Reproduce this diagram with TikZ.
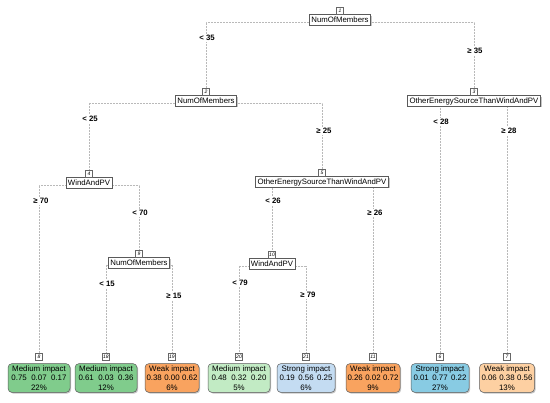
\documentclass[tikz,border=0pt]{standalone}
\usepackage{fontspec}
\setmainfont{Liberation Sans}
\usetikzlibrary{shadows,backgrounds}
\definecolor{gdark}{RGB}{128,204,140}
\definecolor{glight}{RGB}{194,235,196}
\definecolor{odark}{RGB}{249,163,95}
\definecolor{olight}{RGB}{253,208,162}
\definecolor{blight}{RGB}{196,220,242}
\definecolor{bdark}{RGB}{136,203,227}
\definecolor{boxline}{RGB}{90,90,90}
\newcommand{\nums}[4]{\makebox[#1pt]{#2\hfill#3\hfill#4}}
\tikzset{
  split/.style={draw=boxline, fill=white, line width=0.5pt, inner xsep=2pt, inner ysep=0pt,
    minimum height=10.5pt, font=\fontsize{7.8}{9}\selectfont,
    drop shadow={shadow xshift=1.2pt, shadow yshift=-1.2pt, fill=gray, opacity=0.45}},
  leaf/.style={draw=boxline, line width=0.5pt, rounded corners=4pt, align=center, inner xsep=1pt,
    inner ysep=2pt, font=\fontsize{7.9}{9.5}\selectfont,
    drop shadow={shadow xshift=1.2pt, shadow yshift=-1.2pt, fill=gray, opacity=0.45}},
  tag/.style={draw=gray!80!black, fill=white, line width=0.4pt, inner sep=0.5pt, minimum width=7pt,
    minimum height=7pt, font=\fontsize{5}{5.5}\selectfont\itshape},
  lbl/.style={fill=white, inner sep=1pt, font=\fontsize{7.8}{9}\selectfont\bfseries},
  edge/.style={draw=gray!55, line width=0.45pt, dash pattern=on 0.5pt off 1pt}
}
\begin{document}
\begin{tikzpicture}[x=1pt,y=-1pt]
\useasboundingbox (0,0) rectangle (550,403);
% internal nodes
\node[split] (n1) at (340,20) {NumOfMembers};
\node[tag,anchor=south] (t1) at (n1.north) {1};
\node[split] (n2) at (206,101) {NumOfMembers};
\node[tag,anchor=south] (t2) at (n2.north) {2};
\node[split] (n3) at (474,101) {OtherEnergySourceThanWindAndPV};
\node[tag,anchor=south] (t3) at (n3.north) {3};
\node[split] (n4) at (89,183) {WindAndPV};
\node[tag,anchor=south] (t4) at (n4.north) {4};
\node[split] (n5) at (322,182) {OtherEnergySourceThanWindAndPV};
\node[tag,anchor=south] (t5) at (n5.north) {5};
\node[split] (n9) at (139,263) {NumOfMembers};
\node[tag,anchor=south] (t9) at (n9.north) {9};
\node[split] (n10) at (272,264) {WindAndPV};
\node[tag,anchor=south] (t10) at (n10.north) {10};
% leaves
\node[leaf,fill=gdark,minimum width=62pt] (l8) at (39,378) {Medium impact\\\nums{55}{0.75}{0.07}{0.17}\\22\%};
\node[tag,anchor=south] (t8) at ([yshift=2.5pt]l8.north) {8};
\node[leaf,fill=gdark,minimum width=62pt] (l18) at (106,378) {Medium impact\\\nums{55}{0.61}{0.03}{0.36}\\12\%};
\node[tag,anchor=south] (t18) at ([yshift=2.5pt]l18.north) {18};
\node[leaf,fill=odark,minimum width=54pt] (l19) at (172,378) {Weak impact\\\nums{51}{0.38}{0.00}{0.62}\\6\%};
\node[tag,anchor=south] (t19) at ([yshift=2.5pt]l19.north) {19};
\node[leaf,fill=glight,minimum width=62pt] (l20) at (239,378) {Medium impact\\\nums{55}{0.48}{0.32}{0.20}\\5\%};
\node[tag,anchor=south] (t20) at ([yshift=2.5pt]l20.north) {20};
\node[leaf,fill=blight,minimum width=58pt] (l21) at (306,378) {Strong impact\\\nums{53}{0.19}{0.56}{0.25}\\6\%};
\node[tag,anchor=south] (t21) at ([yshift=2.5pt]l21.north) {21};
\node[leaf,fill=odark,minimum width=54pt] (l11) at (373,378) {Weak impact\\\nums{51}{0.26}{0.02}{0.72}\\9\%};
\node[tag,anchor=south] (t11) at ([yshift=2.5pt]l11.north) {11};
\node[leaf,fill=bdark,minimum width=58pt] (l6) at (440,378) {Strong impact\\\nums{53}{0.01}{0.77}{0.22}\\27\%};
\node[tag,anchor=south] (t6) at ([yshift=2.5pt]l6.north) {6};
\node[leaf,fill=olight,minimum width=55pt] (l7) at (507,378) {Weak impact\\\nums{51}{0.06}{0.38}{0.56}\\13\%};
\node[tag,anchor=south] (t7) at ([yshift=2.5pt]l7.north) {7};
% edges
\begin{pgfonlayer}{background}
\fill[white] (0,0) rectangle (550,403);
\draw[edge] ([yshift=-2pt]n1.center) -| (t2.north);
\draw[edge] ([yshift=-2pt]n1.center) -| (t3.north);
\draw[edge] ([yshift=-2pt]n2.center) -| (t4.north);
\draw[edge] ([yshift=-2pt]n2.center) -| (t5.north);
\draw[edge] ([yshift=-2pt]n3.center) -| (t6.north);
\draw[edge] ([yshift=-2pt]n3.center) -| (t7.north);
\draw[edge] ([yshift=-2pt]n4.center) -| (t8.north);
\draw[edge] ([yshift=-2pt]n4.center) -| (t9.north);
\draw[edge] ([yshift=-2pt]n5.center) -| (t10.north);
\draw[edge] ([yshift=-2pt]n5.center) -| (t11.north);
\draw[edge] ([yshift=-2pt]n9.center) -| (t18.north);
\draw[edge] ([yshift=-2pt]n9.center) -| (t19.north);
\draw[edge] ([yshift=-2pt]n10.center) -| (t20.north);
\draw[edge] ([yshift=-2pt]n10.center) -| (t21.north);
\end{pgfonlayer}
% split labels
\node[lbl] (e2) at (207,38) {< 35};
\node[lbl] (e3) at (475,51) {≥ 35};
\node[lbl] (e4) at (90,119) {< 25};
\node[lbl] (e5) at (324,131) {≥ 25};
\node[lbl] (e6) at (441,122) {< 28};
\node[lbl] (e7) at (509,131) {≥ 28};
\node[lbl] (e8) at (41,201) {≥ 70};
\node[lbl] (e9) at (140,213) {< 70};
\node[lbl] (e10) at (273,201) {< 26};
\node[lbl] (e11) at (375,213) {≥ 26};
\node[lbl] (e18) at (107,284) {< 15};
\node[lbl] (e19) at (174,296) {≥ 15};
\node[lbl] (e20) at (240,283) {< 79};
\node[lbl] (e21) at (308,295) {≥ 79};
\end{tikzpicture}
\end{document}
